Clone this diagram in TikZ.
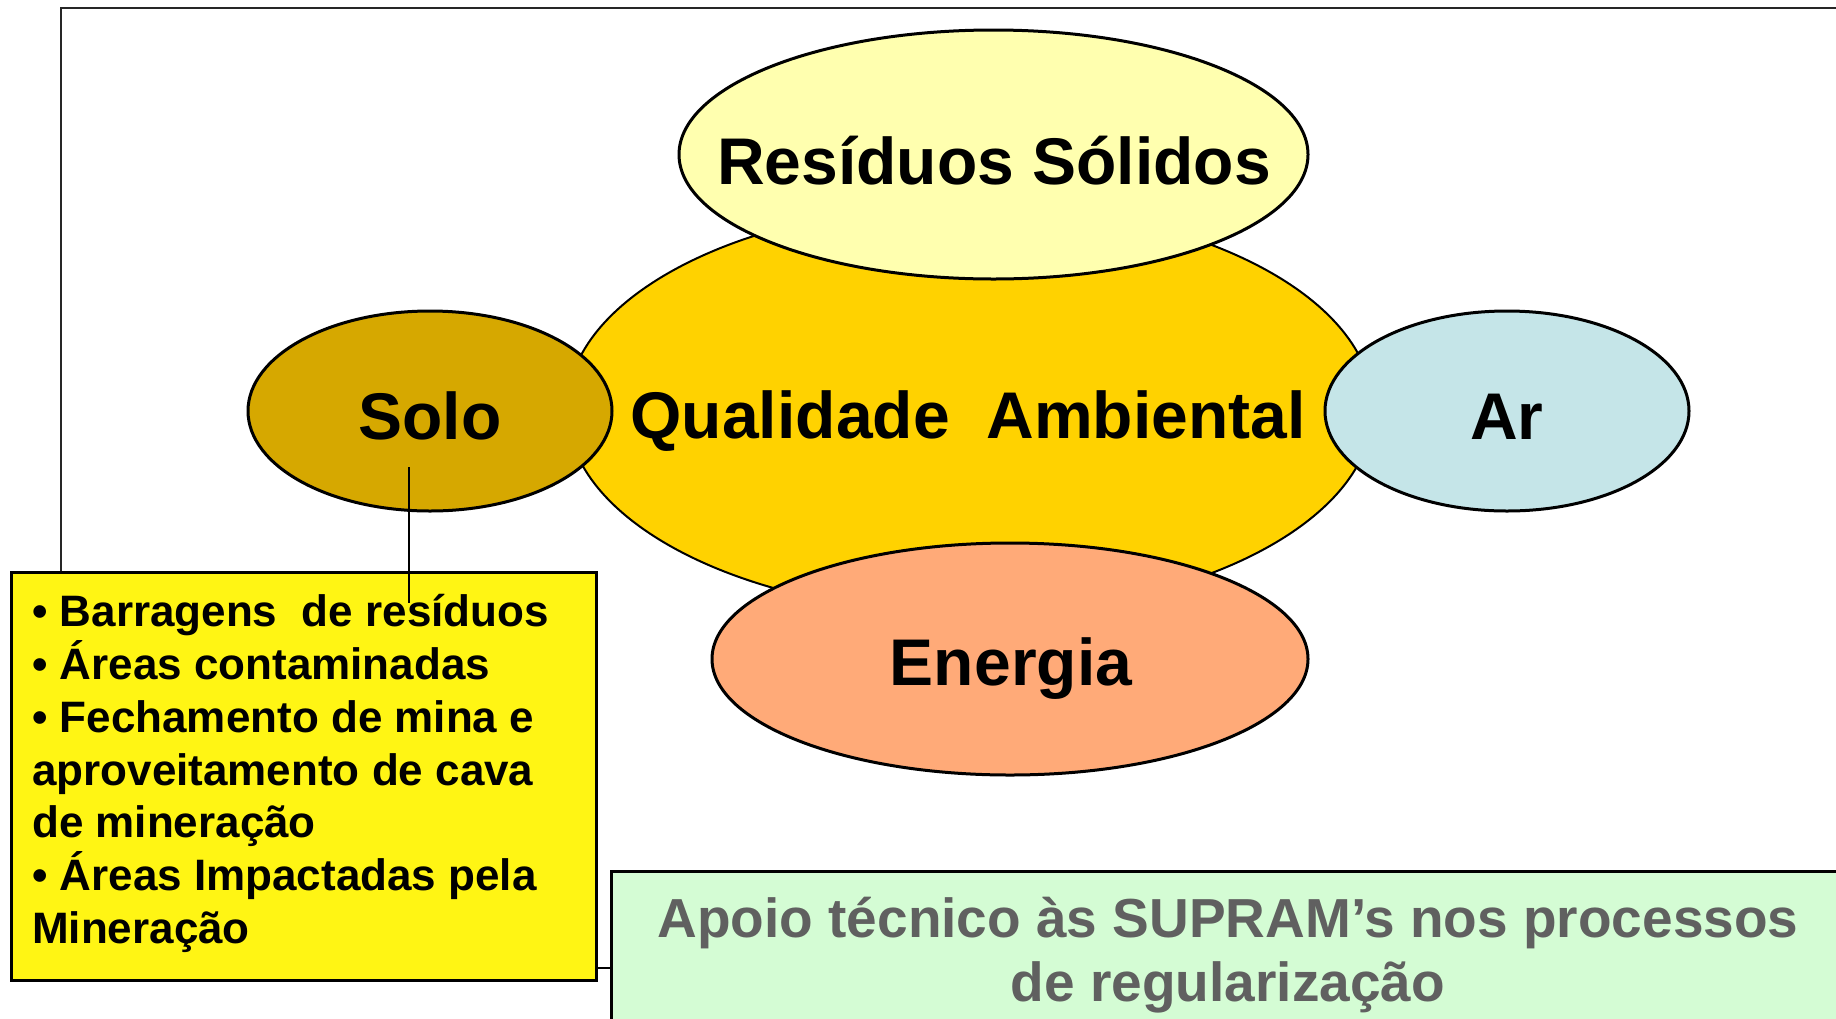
\documentclass[tikz,border=0pt]{standalone}
\usepackage{fontspec}
\setmainfont{Liberation Sans}
\usetikzlibrary{shapes.geometric}
\definecolor{qualfill}{HTML}{FFD200}
\definecolor{solofill}{HTML}{D6A800}
\definecolor{resfill}{HTML}{FFFFAF}
\definecolor{arfill}{HTML}{C5E5E8}
\definecolor{enefill}{HTML}{FFAA78}
\definecolor{yboxfill}{HTML}{FFF514}
\definecolor{gboxfill}{HTML}{D4FCD4}
\definecolor{graytext}{HTML}{606060}
\begin{document}
\begin{tikzpicture}[x=1pt,y=-1pt,
  blob/.style={ellipse, draw=black, line width=3pt, inner sep=0pt, outer sep=0pt},
  biglabel/.style={font=\fontsize{66}{70}\selectfont\bfseries, anchor=base, inner sep=0pt},
  listline/.style={font=\fontsize{44}{53}\selectfont\bfseries, anchor=base west, inner sep=0pt},
  greyline/.style={font=\fontsize{55}{64}\selectfont\bfseries, text=graytext, anchor=base, inner sep=0pt},
  frameline/.style={line width=2.5pt, draw=black!85},
  thinline/.style={line width=2pt, draw=black}]
\useasboundingbox (0,0) rectangle (1836,1018);
\fill[white] (0,0) rectangle (1836,1018);

% frame
\coordinate (fbot) at (61,571);
\coordinate (fcorner) at (61,8);
\coordinate (fright) at (1840,8);
\draw[frameline] (fbot) -- (fcorner) -- (fright);

% ellipses
\node[blob, fill=qualfill, line width=2pt, minimum width=806pt, minimum height=410pt] (qual) at (970,409) {};
\node[blob, fill=solofill, minimum width=364pt, minimum height=200pt] (solo) at (430,411) {};
\node[blob, fill=arfill, minimum width=364pt, minimum height=200pt] (ar) at (1507,411) {};
\node[blob, fill=resfill, minimum width=629pt, minimum height=249pt] (res) at (993.5,154.5) {};
\node[blob, fill=enefill, minimum width=596pt, minimum height=232pt] (ene) at (1010,659) {};

% labels
\node[biglabel] (tqual) at (968,438) {Qualidade\ \ Ambiental};
\node[biglabel] (tsolo) at (430,439) {Solo};
\node[biglabel] (tar) at (1507,439) {Ar};
\node[biglabel] (tres) at (994,184) {Resíduos Sólidos};
\node[biglabel] (tene) at (1011,685) {Energia};

% yellow box
\node[draw=black, line width=3pt, fill=yboxfill, anchor=north west, inner sep=0pt,
      minimum width=585pt, minimum height=408pt] (ybox) at (10,571) {};
\node[listline] (l1) at (32,626) {• Barragens\ \ de resíduos};
\node[listline] (l2) at (32,679) {• Áreas contaminadas};
\node[listline] (l3) at (32,732) {• Fechamento de mina e};
\node[listline] (l4) at (32,785) {aproveitamento de cava};
\node[listline] (l5) at (32,837) {de mineração};
\node[listline] (l6) at (32,890) {• Áreas Impactadas pela};
\node[listline] (l7) at (32,943) {Mineração};

% connector Solo -> box
\coordinate (soloin) at (409,467);
\coordinate (boxin) at (409,603);
\draw[thinline] (soloin) -- (boxin);

% green box
\node[draw=black, line width=2.5pt, fill=gboxfill, anchor=north west, inner sep=0pt,
      minimum width=1250pt, minimum height=200pt] (gbox) at (610,870) {};
\node[greyline] (g1) at (1228,937) {Apoio técnico às SUPRAM’s nos processos};
\node[greyline] (g2) at (1228,1001) {de regularização};

% connector box -> green box
\coordinate (yr) at (595,968);
\coordinate (gl) at (610,968);
\draw[thinline] (yr) -- (gl);
\end{tikzpicture}
\end{document}
